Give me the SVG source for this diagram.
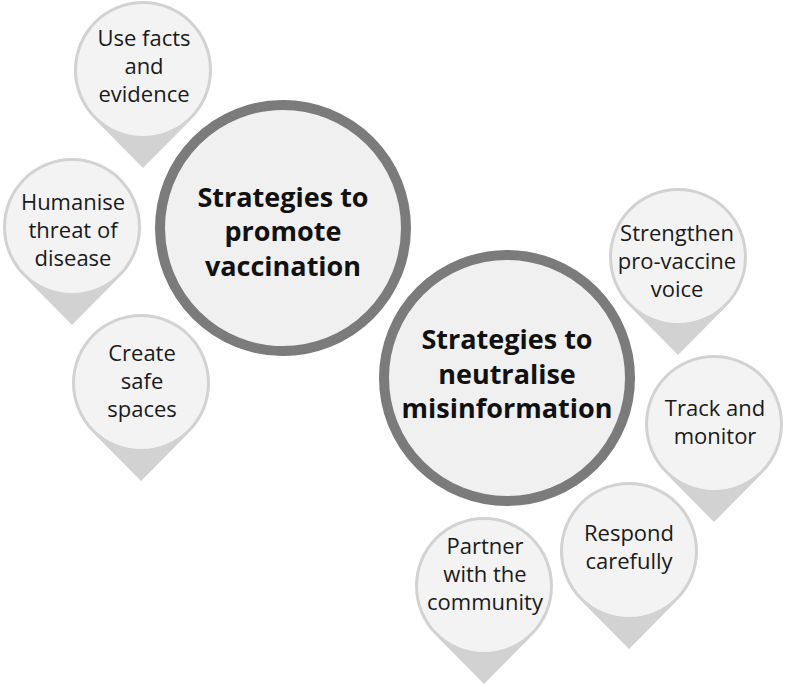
<svg xmlns="http://www.w3.org/2000/svg" xmlns:xlink="http://www.w3.org/1999/xlink" width="787" height="687" viewBox="0 0 787 687">
<style>
.pin-tail{fill:#d2d2d2}
.pin-face{fill:#f3f3f3}
.hub{fill:#f0f0f0;stroke:#7b7b7b;stroke-width:10}
.pt{font-family:"Open Sans","Noto Sans","Liberation Sans",sans-serif;font-size:22px;fill:#1a1a1a;text-anchor:middle}
.ht{font-family:"Open Sans","Noto Sans","Liberation Sans",sans-serif;font-size:27px;font-weight:700;fill:#111;text-anchor:middle}
</style>
<defs>
<path id="pinShape" d="M -49,48.6 A 69 69 0 1 1 49,48.6 L 0,98 Z"/>
</defs>
<rect width="787" height="687" fill="#ffffff"/>
<g id="connectors"></g>

<g id="pin-facts" transform="translate(143,70)">
<use xlink:href="#pinShape" class="pin-tail"/>
<circle r="66" class="pin-face"/>
<text class="pt" x="1" y="-24">Use facts</text>
<text class="pt" x="1" y="4">and</text>
<text class="pt" x="1" y="32">evidence</text>
</g>

<g id="pin-humanise" transform="translate(72,227)">
<use xlink:href="#pinShape" class="pin-tail"/>
<circle r="66" class="pin-face"/>
<text class="pt" x="1" y="-17">Humanise</text>
<text class="pt" x="1" y="11">threat of</text>
<text class="pt" x="1" y="39">disease</text>
</g>

<g id="pin-create" transform="translate(141,383)">
<use xlink:href="#pinShape" class="pin-tail"/>
<circle r="66" class="pin-face"/>
<text class="pt" x="1" y="-22">Create</text>
<text class="pt" x="1" y="6">safe</text>
<text class="pt" x="1" y="34">spaces</text>
</g>

<g id="pin-strengthen" transform="translate(678,257)">
<use xlink:href="#pinShape" class="pin-tail"/>
<circle r="66" class="pin-face"/>
<text class="pt" x="-1" y="-16">Strengthen</text>
<text class="pt" x="-1" y="12">pro-vaccine</text>
<text class="pt" x="-1" y="40">voice</text>
</g>

<g id="pin-track" transform="translate(714,424)">
<use xlink:href="#pinShape" class="pin-tail"/>
<circle r="66" class="pin-face"/>
<text class="pt" x="1" y="-8">Track and</text>
<text class="pt" x="1" y="20">monitor</text>
</g>

<g id="pin-respond" transform="translate(629,551)">
<use xlink:href="#pinShape" class="pin-tail"/>
<circle r="66" class="pin-face"/>
<text class="pt" x="0" y="-10">Respond</text>
<text class="pt" x="0" y="18">carefully</text>
</g>

<g id="pin-partner" transform="translate(484,586)">
<use xlink:href="#pinShape" class="pin-tail"/>
<circle r="66" class="pin-face"/>
<text class="pt" x="1" y="-32">Partner</text>
<text class="pt" x="1" y="-4">with the</text>
<text class="pt" x="1" y="24">community</text>
</g>

<g id="hub-promote">
<circle cx="283" cy="228" r="123" class="hub"/>
<text class="ht" x="283" y="207">Strategies to</text>
<text class="ht" x="283" y="241">promote</text>
<text class="ht" x="283" y="276">vaccination</text>
</g>

<g id="hub-neutralise">
<circle cx="507" cy="378" r="123" class="hub"/>
<text class="ht" x="507" y="349">Strategies to</text>
<text class="ht" x="507" y="384">neutralise</text>
<text class="ht" x="507" y="418">misinformation</text>
</g>
</svg>
